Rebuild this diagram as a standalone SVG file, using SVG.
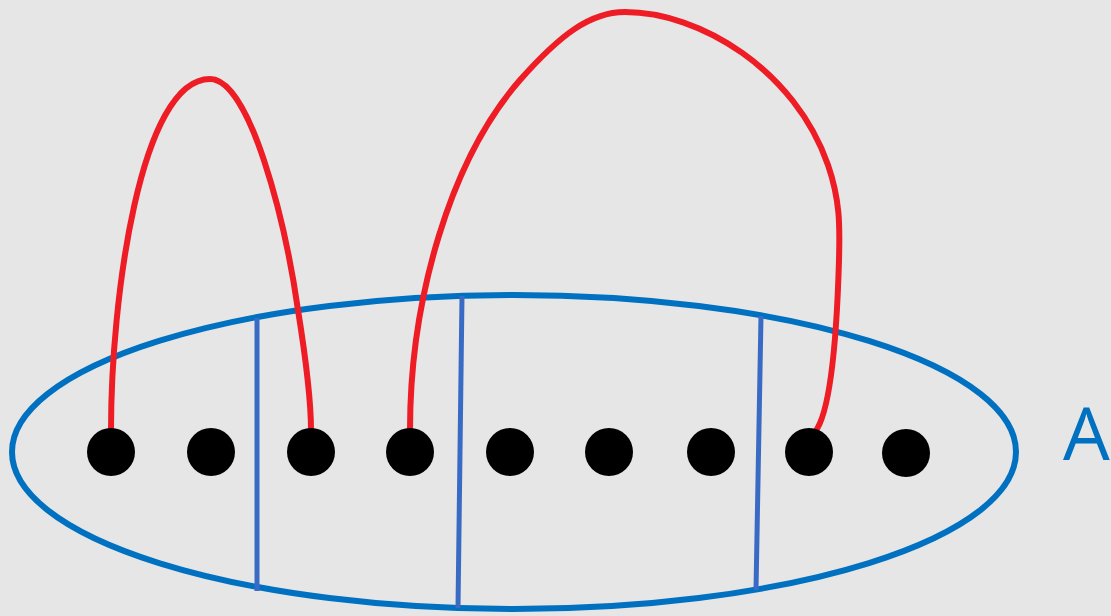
<svg xmlns="http://www.w3.org/2000/svg" width="1111" height="616" viewBox="0 0 1111 616">
<style>
.dot{fill:#000}
.red{fill:none;stroke:#ee1c25;stroke-width:6;stroke-linecap:round}
.div{stroke:#3a6bc4;stroke-width:5}
.set{fill:none;stroke:#0070c0;stroke-width:6}
.lbl{font-family:"Open Sans","Liberation Sans",sans-serif;font-size:74px;fill:#0070c0}
</style>
<rect width="1111" height="616" fill="#e6e6e6"/>
<g id="set-A">
<ellipse class="set" cx="514" cy="452" rx="502" ry="157"/>
<text class="lbl" x="1063" y="460">A</text>
</g>
<g id="dividers">
<line class="div" x1="257" y1="318" x2="257" y2="591"/>
<line class="div" x1="462" y1="296" x2="458" y2="608"/>
<line class="div" x1="761" y1="316" x2="756" y2="590"/>
</g>
<g id="connectors">
<path class="red" d="M111,430 C111,300 140,79 210,79 C250,79 285,220 298,310 C306,360 311,400 311,430"/>
<path class="red" d="M410,430 C410,300 450,160 520,80 C560,35 590,12 625,12 C700,12 795,70 828,165 C840,200 840,225 839,260 C837,330 832,410 815,432"/>
</g>
<g id="n1"><circle class="dot" cx="111" cy="452" r="24"/></g>
<g id="n2"><circle class="dot" cx="211" cy="452" r="24"/></g>
<g id="n3"><circle class="dot" cx="311" cy="452" r="24"/></g>
<g id="n4"><circle class="dot" cx="410" cy="452" r="24"/></g>
<g id="n5"><circle class="dot" cx="510" cy="452" r="24"/></g>
<g id="n6"><circle class="dot" cx="609" cy="452" r="24"/></g>
<g id="n7"><circle class="dot" cx="711" cy="452" r="24"/></g>
<g id="n8"><circle class="dot" cx="809" cy="452" r="24"/></g>
<g id="n9"><circle class="dot" cx="906" cy="453" r="24"/></g>
</svg>
